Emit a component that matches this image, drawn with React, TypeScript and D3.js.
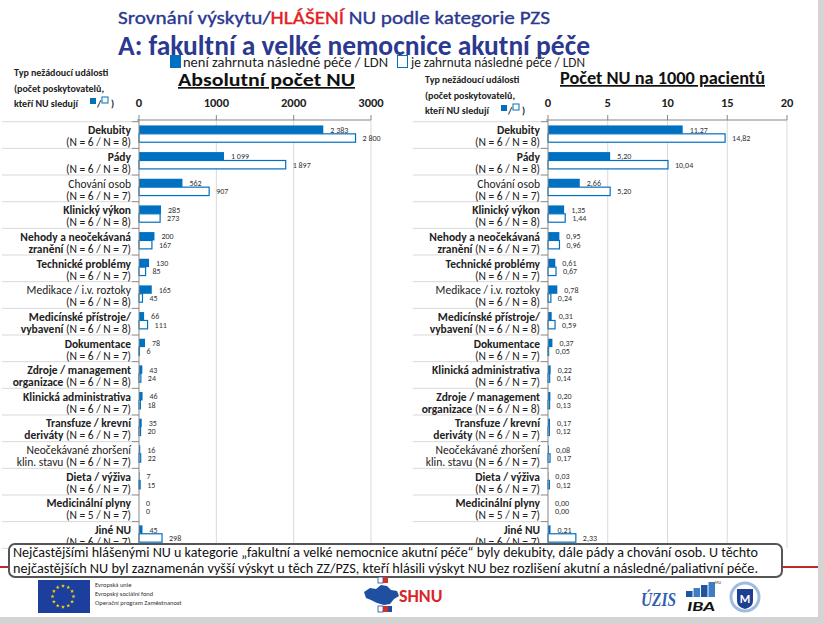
import React from 'react';
import * as d3 from 'd3';

// ---------------- DATA ----------------
const seriesNames = ['není zahrnuta následné péče / LDN', 'je zahrnuta následné péče / LDN'];

const leftCategories = [
  'Dekubity', 'Pády', 'Chování osob', 'Klinický výkon', 'Nehody a neočekávaná|zranění',
  'Technické problémy', 'Medikace / i.v. roztoky', 'Medicínské přístroje/|vybavení', 'Dokumentace',
  'Zdroje / management|organizace', 'Klinická administrativa', 'Transfuze / krevní|deriváty',
  'Neočekávané zhoršení|klin. stavu', 'Dieta / výživa', 'Medicinální plyny', 'Jiné NU',
];
const leftN = [
  '(N = 6 / N = 8)', '(N = 6 / N = 8)', '(N = 6 / N = 7)', '(N = 6 / N = 8)', '(N = 6 / N = 7)',
  '(N = 6 / N = 7)', '(N = 6 / N = 8)', '(N = 6 / N = 8)', '(N = 6 / N = 7)', '(N = 6 / N = 8)',
  '(N = 6 / N = 7)', '(N = 6 / N = 7)', '(N = 6 / N = 7)', '(N = 6 / N = 7)', '(N = 5 / N = 7)',
  '(N = 6 / N = 7)',
];
const leftNotIncluded = [2383, 1099, 562, 285, 200, 130, 165, 66, 78, 43, 46, 35, 16, 7, 0, 45];
const leftIncluded = [2800, 1897, 907, 273, 167, 85, 45, 111, 6, 24, 18, 20, 22, 15, 0, 298];
const leftTicks = [0, 1000, 2000, 3000];

const rightCategories = [
  'Dekubity', 'Pády', 'Chování osob', 'Klinický výkon', 'Nehody a neočekávaná|zranění',
  'Technické problémy', 'Medikace / i.v. roztoky', 'Medicínské přístroje/|vybavení', 'Dokumentace',
  'Klinická administrativa', 'Zdroje / management|organizace', 'Transfuze / krevní|deriváty',
  'Neočekávané zhoršení|klin. stavu', 'Dieta / výživa', 'Medicinální plyny', 'Jiné NU',
];
const rightN = [
  '(N = 6 / N = 8)', '(N = 6 / N = 8)', '(N = 6 / N = 7)', '(N = 6 / N = 8)', '(N = 6 / N = 7)',
  '(N = 6 / N = 7)', '(N = 6 / N = 8)', '(N = 6 / N = 8)', '(N = 6 / N = 7)', '(N = 6 / N = 7)',
  '(N = 6 / N = 8)', '(N = 6 / N = 7)', '(N = 6 / N = 7)', '(N = 6 / N = 7)', '(N = 5 / N = 7)',
  '(N = 6 / N = 7)',
];
const rightNotIncluded = [11.27, 5.2, 2.66, 1.35, 0.95, 0.61, 0.78, 0.31, 0.37, 0.22, 0.2, 0.17, 0.08, 0.03, 0.0, 0.21];
const rightIncluded = [14.82, 10.04, 5.2, 1.44, 0.96, 0.67, 0.24, 0.59, 0.05, 0.14, 0.13, 0.12, 0.17, 0.12, 0.0, 2.33];
const rightTicks = [0, 5, 10, 15, 20];

const titleLine1 = ['Srovnání výskytu/', 'HLÁŠENÍ', ' NU podle kategorie PZS'];
const titleLine2 = 'A: fakultní a velké nemocnice akutní péče';
const leftPanelTitle = 'Absolutní počet NU';
const rightPanelTitle = 'Počet NU na 1000 pacientů';
const headerLines = ['Typ nežádoucí události', '(počet poskytovatelů,', 'kteří NU sledují'];
const noteLines = [
  'Nejčastějšími hlášenými NU u kategorie „fakultní a velké nemocnice akutní péče“ byly dekubity, dále pády a chování osob. U těchto',
  'nejčastějších NU byl zaznamenán vyšší výskyt u těch ZZ/PZS, kteří hlásili výskyt NU bez rozlišení akutní a následné/paliativní péče.',
];
const euLines = ['Evropská unie', 'Evropský sociální fond', 'Operační program Zaměstnanost'];

// ---------------- STYLE ----------------
const FONT = "Carlito, 'Liberation Sans Narrow', Lato, 'Noto Sans', sans-serif";
const BLUE = '#0070C0';
const DARK_BLUE = '#2B3990';
const REGULAR_NAMES = new Set(['Chování osob', 'Medikace / i.v. roztoky', 'Neočekávané zhoršení|klin. stavu']);

type PanelProps = {
  x0: number; x1: number; max: number; ticks: number[];
  cats: string[]; ns: string[]; a: number[]; b: number[];
  fmt: (v: number) => string; lineLeft: number;
};

function Panel({ x0, x1, max, ticks, cats, ns, a, b, fmt, lineLeft }: PanelProps) {
  const x = d3.scaleLinear().domain([0, max]).range([x0, x1]);
  const idx = d3.range(cats.length);
  const rows = d3.scaleBand<number>().domain(idx).range([121.7, 548.3]).padding(0);
  const step = rows.step();
  const sub = d3.scaleBand<number>().domain([0, 1]).range([0.14 * step, 0.77 * step]).padding(0);
  const axisY = 120;
  const labelX = x0 - 8;
  return (
    <g>
      {ticks.filter((t) => t !== 0).map((t) => (
        <line key={'g' + t} x1={x(t)} x2={x(t)} y1={axisY} y2={548} stroke="#d9d9d9" strokeWidth={1} />
      ))}
      {ticks.map((t) => (
        <text key={'t' + t} x={x(t)} y={107} textAnchor="middle" fontSize={12.5} fontWeight={700} fill="#222" fontFamily={FONT}>
          {t}
        </text>
      ))}
      {d3.range(cats.length + 1).map((i) => {
        const yy = 121.7 + i * step;
        return (
          <g key={'s' + i}>
            <line x1={lineLeft} x2={x0 - 7} y1={yy} y2={yy} stroke="#d9d9d9" strokeWidth={1} />
            <line x1={x0 - 7} x2={x0} y1={yy} y2={yy} stroke="#868686" strokeWidth={1} />
          </g>
        );
      })}
      {idx.map((i) => {
        const top = rows(i)!;
        const ya = top + sub(0)!;
        const yb = top + sub(1)!;
        const h = sub.bandwidth();
        return (
          <g key={'b' + i}>
            <rect x={x0} y={ya} width={Math.max(0, x(a[i]) - x0)} height={h} fill={BLUE} />
            <rect x={x0} y={yb} width={Math.max(0, x(b[i]) - x0)} height={h} fill="#fff" stroke={BLUE} strokeWidth={1.2} />
            <text x={x(a[i]) + 7} y={ya + h / 2 + 3} fontSize={8} fill="#333" fontFamily={FONT}>{fmt(a[i])}</text>
            <text x={x(b[i]) + 7} y={yb + h / 2 + 3} fontSize={8} fill="#333" fontFamily={FONT}>{fmt(b[i])}</text>
          </g>
        );
      })}
      {idx.map((i) => {
        const top = rows(i)!;
        const parts = cats[i].split('|');
        const w = REGULAR_NAMES.has(cats[i]) ? 400 : 700;
        return (
          <g key={'l' + i} fontFamily={FONT} fontSize={11.5} fill="#222">
            <text x={labelX} y={top + 12.5} textAnchor="end" fontWeight={w}>{parts[0]}</text>
            <text x={labelX} y={top + 24.5} textAnchor="end">
              {parts[1] ? <tspan fontWeight={w}>{parts[1] + ' '}</tspan> : null}
              <tspan fontWeight={400}>{ns[i]}</tspan>
            </text>
          </g>
        );
      })}
      <line x1={x0 - 2} x2={x1} y1={axisY} y2={axisY} stroke="#868686" strokeWidth={1} />
      {ticks.map((t) => (
        <line key={'k' + t} x1={x(t)} x2={x(t)} y1={axisY - 5} y2={axisY} stroke="#868686" strokeWidth={1} />
      ))}
      <line x1={x0} x2={x0} y1={axisY} y2={548} stroke="#868686" strokeWidth={1} />
    </g>
  );
}

function Header({ x, y }: { x: number; y: number }) {
  return (
    <g fontFamily={FONT} fontSize={10} fontWeight={700} fill="#222">
      <text x={x} y={y}>{headerLines[0]}</text>
      <text x={x} y={y + 16}>{headerLines[1]}</text>
      <text x={x} y={y + 31}>{headerLines[2]}</text>
      <rect x={x + 76} y={y + 22} width={6} height={6} fill={BLUE} />
      <text x={x + 83} y={y + 31}>/</text>
      <rect x={x + 88} y={y + 21} width={6} height={6} fill="#fff" stroke={BLUE} strokeWidth={1} />
      <text x={x + 97} y={y + 31}>)</text>
    </g>
  );
}

function Logos() {
  const star = d3.symbol().type(d3.symbolStar).size(5)();
  const stars = d3.range(12).map((i) => {
    const ang = (i / 12) * Math.PI * 2;
    return [63 + 10.5 * Math.cos(ang), 596.5 + 10.5 * Math.sin(ang)];
  });
  const czech = 'M364,592 L370,588 L376,589 L381,585 L387,586 L391,590 L397,591 L399,596 L394,599 L390,604 L384,605 L377,603 L371,600 L366,598 Z';
  const mu = d3.range(4);
  return (
    <g>
      <rect x={38} y={580} width={52} height={33} fill="#1C3F9E" />
      {stars.map(([sx, sy], i) => (
        <path key={i} d={star!} transform={`translate(${sx},${sy})`} fill="#FFD400" />
      ))}
      <g fontFamily={FONT} fontSize={6.5} fill="#333">
        {euLines.map((t, i) => (
          <text key={i} x={95} y={587 + i * 9}>{t}</text>
        ))}
      </g>
      <rect x={378} y={577} width={5} height={6} fill="#fff" stroke="#1F4FA0" strokeWidth={0.8} />
      <rect x={383} y={577} width={5} height={6} fill="#D32F2F" />
      <path d={czech} fill="#1F4FA0" />
      <rect x={378} y={606} width={5} height={6} fill="#fff" stroke="#1F4FA0" strokeWidth={0.8} />
      <rect x={383} y={606} width={5} height={6} fill="#D32F2F" />
      <rect x={388} y={606} width={4} height={6} fill="#1F4FA0" />
      <text x={399} y={602} fontFamily={FONT} fontSize={18} fontWeight={700} fill="#D7262B">SHNU</text>
      <text x={641} y={606} fontFamily="'Liberation Serif', serif" fontSize={18} fontStyle="italic" fontWeight={700} fill="#2F5FAE" textLength={35} lengthAdjust="spacingAndGlyphs">ÚZIS</text>
      {mu.map((i) => (
        <rect key={i} x={686 + i * 7.5} y={597 - (6 + i * 3)} width={6.5} height={6 + i * 3} fill={i % 2 ? '#3E7CC4' : '#1D56A3'} />
      ))}
      <text x={715} y={584} fontFamily={FONT} fontSize={4} fill="#333">MU</text>
      <text x={687} y={611} fontFamily={FONT} fontSize={14} fontStyle="italic" fontWeight={900} fill="#111" textLength={28} lengthAdjust="spacingAndGlyphs">IBA</text>
      <circle cx={745} cy={597} r={14} fill="#fff" stroke="#9DBCE0" strokeWidth={3} />
      <path d="M737,589 L753,589 L753,601 Q753,607 745,609 Q737,607 737,601 Z" fill="#1F3F93" />
      <text x={745} y={603} textAnchor="middle" fontFamily={FONT} fontSize={12} fontWeight={700} fill="#fff">M</text>
    </g>
  );
}

export default function App() {
  const leftFmt = (v: number) => d3.format(',')(v).replace(/,/g, ' ');
  const rightFmt = (v: number) => v.toFixed(2).replace('.', ',');
  return (
    <svg width={824} height={624} style={{ position: 'absolute', left: 0, top: 0 }}>
      <rect x={0} y={0} width={824} height={624} fill="#d4d4d4" />
      <rect x={0} y={0} width={818} height={617} fill="#fff" />

      <text x={118} y={24} fontFamily={FONT} fontSize={19} fontWeight={400} fill={DARK_BLUE} stroke={DARK_BLUE} strokeWidth={0.35} textLength={432} lengthAdjust="spacingAndGlyphs">
        <tspan>{titleLine1[0]}</tspan>
        <tspan fill="#E3211E" stroke="#E3211E">{titleLine1[1]}</tspan>
        <tspan>{titleLine1[2]}</tspan>
      </text>
      <text x={118} y={55} fontFamily={FONT} fontSize={28} fontWeight={700} fill={DARK_BLUE} textLength={472} lengthAdjust="spacingAndGlyphs">
        {titleLine2}
      </text>

      <rect x={170} y={55} width={11} height={13} fill={BLUE} />
      <text x={183} y={67} fontFamily={FONT} fontSize={14} fill="#222" textLength={205} lengthAdjust="spacingAndGlyphs">{seriesNames[0]}</text>
      <rect x={397.5} y={55.5} width={10} height={12} fill="#fff" stroke={BLUE} strokeWidth={1} />
      <text x={411} y={67} fontFamily={FONT} fontSize={14} fill="#222" textLength={174} lengthAdjust="spacingAndGlyphs">{seriesNames[1]}</text>

      <text x={178} y={86} fontFamily={FONT} fontSize={17} fontWeight={700} fill="#111" textDecoration="underline" textLength={177} lengthAdjust="spacingAndGlyphs">{leftPanelTitle}</text>
      <text x={560} y={84} fontFamily={FONT} fontSize={17} fontWeight={700} fill="#111" textDecoration="underline" textLength={205} lengthAdjust="spacingAndGlyphs">{rightPanelTitle}</text>

      <Header x={14} y={76} />
      <Header x={425} y={83} />

      <Panel x0={139} x1={371} max={3000} ticks={leftTicks} cats={leftCategories} ns={leftN}
        a={leftNotIncluded} b={leftIncluded} fmt={leftFmt} lineLeft={2} />
      <Panel x0={548} x1={787} max={20} ticks={rightTicks} cats={rightCategories} ns={rightN}
        a={rightNotIncluded} b={rightIncluded} fmt={rightFmt} lineLeft={413} />

      <line x1={0} x2={14} y1={567} y2={567} stroke="#C0282D" strokeWidth={2} />
      <line x1={780} x2={818} y1={567} y2={567} stroke="#C0282D" strokeWidth={2} />
      <rect x={9} y={544} width={773} height={33} rx={6} fill="#fff" stroke="#555" strokeWidth={2} />
      <g fontFamily={FONT} fontSize={14} fill="#111">
        <text x={13} y={557} textLength={745} lengthAdjust="spacingAndGlyphs">{noteLines[0]}</text>
        <text x={13} y={573} textLength={745} lengthAdjust="spacingAndGlyphs">{noteLines[1]}</text>
      </g>

      <Logos />
    </svg>
  );
}
